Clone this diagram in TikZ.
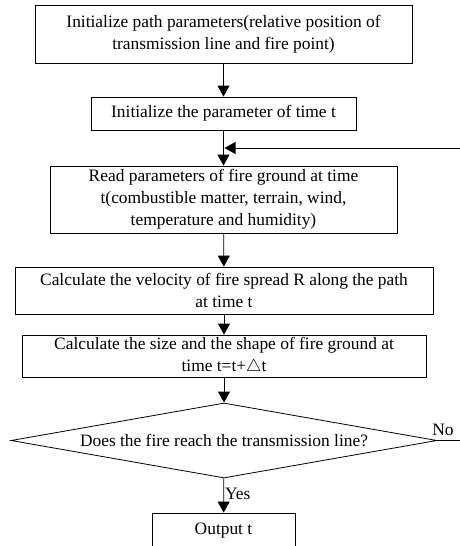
\documentclass[tikz,border=0pt]{standalone}
\usepackage{fontspec}
\setmainfont{Liberation Serif}
\usetikzlibrary{shapes.geometric, arrows.meta}

\tikzset{
  caja/.style={draw, line width=0.8pt, align=center, inner sep=0pt,
    font=\fontsize{17.4}{22}\selectfont},
  flecha/.style={line width=0.8pt, -{Triangle[length=11pt,width=12pt]}},
  linea/.style={line width=0.8pt}
}

\begin{document}
\begin{tikzpicture}[x=1pt, y=-1pt]
            \useasboundingbox (0,0) rectangle (460,546);

            % Cajas del proceso
            \node[caja, minimum width=377pt, minimum height=58pt] (ini) at (223.5,34)
              {Initialize path parameters(relative position of\\transmission line and fire point)};
            \node[caja, minimum width=265pt, minimum height=33pt] (tiempo) at (223.5,113.5)
              {Initialize the parameter of time t};
            \node[caja, minimum width=347pt, minimum height=67pt] (leer) at (223.5,199.5)
              {Read parameters of fire ground at time\\t(combustible matter, terrain, wind,\\temperature and humidity)};
            \node[caja, minimum width=418pt, minimum height=47pt] (veloc) at (224,290.5)
              {Calculate the velocity of fire spread R along the path\\at time t};
            \node[caja, minimum width=404pt, minimum height=42pt] (forma) at (224,356)
              {Calculate the size and the shape of fire ground at\\time t=t+$\triangle$t};
            \node[caja, diamond, aspect=5.7, minimum width=426pt, minimum height=75pt] (decide) at (224,440.5)
              {Does the fire reach the transmission line?};
            \node[caja, minimum width=143pt, minimum height=36pt] (salida) at (223.5,531)
              {Output t};

            % Flechas
            \draw[flecha] (ini) -- (tiempo);
            \draw[flecha] (tiempo) -- (leer);
            \draw[flecha] (leer) -- (veloc);
            \draw[flecha] (veloc) -- (forma);
            \draw[flecha] (forma) -- (decide);
            \draw[flecha] (decide) -- node[anchor=west, inner sep=1pt, yshift=2pt, font=\fontsize{17.4}{20}\selectfont] {Yes} (salida);

            % Retorno
            \coordinate (retorno) at (460,148);
            \coordinate (union) at (224.5,148);
            \draw[flecha] (retorno) -- (union);
            \coordinate (fin) at (460,440.5);
            \draw[linea] (decide.east) -- (fin);
            \node[font=\fontsize{17.4}{20}\selectfont] (no) at (443,430) {No};
        \end{tikzpicture}
\end{document}
